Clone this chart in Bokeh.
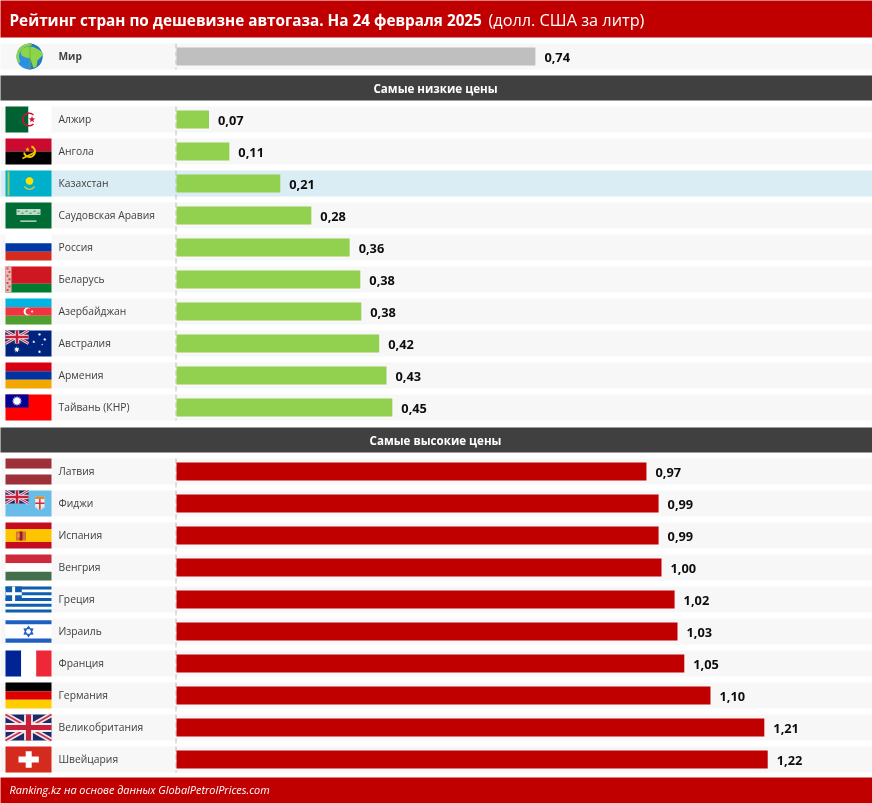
import math
from bokeh.plotting import figure
from bokeh.models import Range1d, ColumnDataSource
from bokeh.core.properties import value
from bokeh.embed import file_html
from bokeh.resources import INLINE

title_bold = "Рейтинг стран по дешевизне автогаза. На 24 февраля 2025"
title_rest = "(долл. США за литр)"
section_low = "Самые низкие цены"
section_high = "Самые высокие цены"
footer = "Ranking.kz на основе данных GlobalPetrolPrices.com"

world_names = ["Мир"]
world_values = [0.74]
world_labels = ["0,74"]

low_names = ["Алжир", "Ангола", "Казахстан", "Саудовская Аравия", "Россия",
             "Беларусь", "Азербайджан", "Австралия", "Армения", "Тайвань (КНР)"]
low_values = [0.067, 0.109, 0.214, 0.278, 0.357, 0.379, 0.381, 0.418, 0.433, 0.445]
low_labels = ["0,07", "0,11", "0,21", "0,28", "0,36", "0,38", "0,38", "0,42", "0,43", "0,45"]

high_names = ["Латвия", "Фиджи", "Испания", "Венгрия", "Греция",
              "Израиль", "Франция", "Германия", "Великобритания", "Швейцария"]
high_values = [0.969, 0.994, 0.994, 1.0, 1.027, 1.033, 1.047, 1.101, 1.212, 1.219]
high_labels = ["0,97", "0,99", "0,99", "1,00", "1,02", "1,03", "1,05", "1,10", "1,21", "1,22"]

W, H = 872, 803
SHIFT = 1          # the frame sits one pixel in from the page corner
AXIS_PX = 177
PX_PER_USD = 485
RED = "#C00000"
GREEN = "#92D050"
GREY = "#BFBFBF"
DARK = "#404040"
ROW_BG = "#F7F7F7"
HILITE = "#DAEDF4"

p = figure(width=W, height=H, output_backend="svg", toolbar_location=None,
           x_range=Range1d((SHIFT - AXIS_PX) / PX_PER_USD, (W + SHIFT - AXIS_PX) / PX_PER_USD),
           y_range=Range1d(H + SHIFT, SHIFT),
           x_axis_location=None, y_axis_location=None,
           min_border=0, outline_line_color=None, background_fill_color="white",
           styles={"position": "fixed", "left": "0px", "top": "0px"})
p.xgrid.visible = False
p.ygrid.visible = False
p.extra_x_ranges = {"px": Range1d(SHIFT, W + SHIFT)}

FONT = "Open Sans"


# ---------- row layout
world_y = [57]
low_y = [120 + 32 * i for i in range(len(low_names))]
high_y = [472 + 32 * i for i in range(len(high_names))]

# frames
p.quad(left=[0, 0, 0, 0], right=[W + 1] * 4, top=[0, 76, 428, 778], bottom=[38, 101, 453, 804],
       fill_color=[RED, DARK, DARK, RED], line_color=None, x_range_name="px")

all_y = world_y + low_y + high_y
all_names = world_names + low_names + high_names
bg = [HILITE if n == "Казахстан" else ROW_BG for n in all_names]
p.quad(left=0, right=W + 1, top=[y - 13 for y in all_y], bottom=[y + 13 for y in all_y],
       fill_color=bg, line_color=None, x_range_name="px")

# axis lines
p.segment(x0=[176.5] * 3, x1=[176.5] * 3, y0=[44, 107, 459], y1=[70, 421, 773],
          line_color="#BDBDBD", line_width=1, line_dash="5 3", x_range_name="px")


# bars
def bars(ys, vals, labels, color):
    src = ColumnDataSource(dict(y=ys, v=vals, lab=labels))
    p.hbar(y="y", right="v", left=0, height=18, fill_color=color, line_color=None, source=src)
    p.text(x="v", y="y", text="lab", source=src, x_offset=9, y_offset=1,
           text_font=value(FONT), text_font_style="bold", text_font_size="12.8px",
           text_color="#0D0D0D", text_baseline="middle", text_align="left")


bars(world_y, world_values, world_labels, GREY)
bars(low_y, low_values, low_labels, GREEN)
bars(high_y, high_values, high_labels, RED)

# row names
p.text(x=[59], y=[y - 1 for y in world_y], text=world_names, x_range_name="px",
       text_font=value(FONT), text_font_style="bold", text_font_size="10.2px",
       text_color=DARK, text_baseline="middle")
p.text(x=[59] * 20, y=[y - 1 for y in low_y + high_y], text=low_names + high_names, x_range_name="px",
       text_font=value(FONT), text_font_size="10.3px",
       text_color=DARK, text_baseline="middle")

# titles
p.text(x=[10], y=[20], text=[title_bold], x_range_name="px", text_font=value(FONT),
       text_font_style="bold", text_font_size="15.3px", text_color="white", text_baseline="middle")
p.text(x=[489], y=[20], text=[title_rest], x_range_name="px", text_font=value(FONT),
       text_font_size="16.3px", text_color="white", text_baseline="middle")
p.text(x=[436, 436], y=[88.5, 440.5], text=[section_low, section_high], x_range_name="px",
       text_font=value(FONT), text_font_style="bold", text_font_size="11.6px", text_color="white",
       text_baseline="middle", text_align="center")
p.text(x=[10], y=[790], text=[footer], x_range_name="px", text_font=value(FONT),
       text_font_style="italic", text_font_size="10.9px", text_color="white", text_baseline="middle")

# ---------- flag decorations: local frame 46 x 26, drawn in the row's left cell
fx, fy, fc = [], [], []
ox, oy = 0, 0


def poly(pts, c):
    fx.append([ox + a for a, b in pts])
    fy.append([oy + b for a, b in pts])
    fc.append(c)


def box(x0, y0, x1, y1, c):
    poly([(x0, y0), (x1, y0), (x1, y1), (x0, y1)], c)


def circ(cx, cy, r, c, n=28):
    poly([(cx + r * math.cos(2 * math.pi * i / n), cy + r * math.sin(2 * math.pi * i / n)) for i in range(n)], c)


def star(cx, cy, r, c, n=5, ratio=0.42, rot=-math.pi / 2):
    pts = []
    for i in range(2 * n):
        rr = r if i % 2 == 0 else r * ratio
        a = rot + math.pi * i / n
        pts.append((cx + rr * math.cos(a), cy + rr * math.sin(a)))
    poly(pts, c)


def thick(x0, y0, x1, y1, t, c):
    dx, dy = x1 - x0, y1 - y0
    L = math.hypot(dx, dy)
    nx, ny = -dy / L * t / 2, dx / L * t / 2
    poly([(x0 + nx, y0 + ny), (x1 + nx, y1 + ny), (x1 - nx, y1 - ny), (x0 - nx, y0 - ny)], c)


def arc(cx, cy, r0, r1, a0, a1, c, n=16):
    angs = [math.radians(a0 + (a1 - a0) * i / n) for i in range(n + 1)]
    pts = [(cx + r1 * math.cos(a), cy + r1 * math.sin(a)) for a in angs]
    pts += [(cx + r0 * math.cos(a), cy + r0 * math.sin(a)) for a in reversed(angs)]
    poly(pts, c)


def jack(w, h):
    k = h / 26
    box(0, 0, w, h, "#1B2A6B")
    thick(0, 0, w, h, 5.2 * k, "#F2E6E8")
    thick(w, 0, 0, h, 5.2 * k, "#F2E6E8")
    thick(0, 0, w, h, 1.8 * k, "#C8304A")
    thick(w, 0, 0, h, 1.8 * k, "#C8304A")
    box(w / 2 - 4.4 * k, 0, w / 2 + 4.4 * k, h, "#F5ECEE")
    box(0, h / 2 - 4.4 * k, w, h / 2 + 4.4 * k, "#F5ECEE")
    box(w / 2 - 2.6 * k, 0, w / 2 + 2.6 * k, h, "#C8203A")
    box(0, h / 2 - 2.6 * k, w, h / 2 + 2.6 * k, "#C8203A")


def at(row_y):
    global ox, oy
    ox, oy = 6, row_y - 13


# world
at(57)
circ(24, 13, 13, "#2B8FE3", 40)
arc(24, 13, 0, 13, -90, 90, "#2479C9", 20)
arc(24, 13, 10.5, 13, 150, 280, "#8CD44A", 14)
poly([(17, 5), (22, 3), (28, 3.5), (33, 6), (37, 9), (38, 11), (34, 15), (32, 17), (31, 23), (28, 24.5),
      (26, 19), (25, 15), (20, 14), (16, 12), (15, 8)], "#8CD44A")
box(24, 0.5, 25, 25, "#6FB83C")

# Алжир
at(low_y[0])
box(0, 0, 23, 26, "#006233")
box(23, 0, 46, 26, "#FFFFFF")
arc(23.5, 13, 5.5, 7, 45, 315, "#D21034", 20)
star(26.5, 13, 3.4, "#D21034")

# Ангола
at(low_y[1])
box(0, 0, 46, 13, "#CC092F")
box(0, 13, 46, 26, "#000000")
arc(24, 13, 4.5, 6.5, -70, 170, "#F5C400", 14)
thick(17, 20, 29, 14, 1.6, "#F5C400")
star(22, 11, 2.4, "#F5C400")

# Казахстан
at(low_y[2])
box(0, 0, 46, 26, "#00AFCA")
box(2, 1, 4, 25, "#A8C94B")
arc(24, 13, 5, 6.5, 30, 150, "#B9CF5A", 10)
circ(24, 10.5, 3.8, "#FEE000")

# Саудовская Аравия
at(low_y[3])
box(0, 0, 46, 26, "#006C35")
box(11, 6.5, 35, 12.5, "#BFD9C9")
for i in range(6):
    box(12 + 4 * i, 8 + (i % 2) * 2, 14 + 4 * i, 9.5 + (i % 2) * 2, "#5E9E7A")
box(14.7, 18, 31, 19.2, "#D8E9DF")

# Россия
at(low_y[4])
box(0, 0, 46, 8.7, "#FFFFFF")
box(0, 8.7, 46, 17.3, "#0039A6")
box(0, 17.3, 46, 26, "#D52B1E")

# Беларусь
at(low_y[5])
box(0, 0, 46, 17.3, "#CE1720")
box(0, 17.3, 46, 26, "#007C30")
box(0, 0, 6, 26, "#E6B8B8")
for j in range(7):
    box(1 + (j % 2) * 2, 1 + j * 3.6, 3 + (j % 2) * 2, 3 + j * 3.6, "#CE4A50")

# Азербайджан
at(low_y[6])
box(0, 0, 46, 8.7, "#00B5E2")
box(0, 8.7, 46, 17.3, "#EF3340")
box(0, 17.3, 46, 26, "#509E2F")
circ(22, 13, 3.9, "#FFFFFF")
circ(23.3, 13, 3.2, "#EF3340")
star(26.6, 13, 1.6, "#FFFFFF", 8)

# Австралия
at(low_y[7])
box(0, 0, 46, 26, "#00247D")
jack(23, 13)
star(11.3, 19, 3.3, "#FFFFFF", 7)
for sx, sy, sr in [(34, 4, 1.8), (39.3, 9, 1.8), (28.3, 11.3, 1.7), (36.7, 14, 1.0), (34, 21.3, 1.8)]:
    star(sx, sy, sr, "#FFFFFF", 7)

# Армения
at(low_y[8])
box(0, 0, 46, 8.7, "#D90012")
box(0, 8.7, 46, 17.3, "#0033A0")
box(0, 17.3, 46, 26, "#F2A800")

# Тайвань
at(low_y[9])
box(0, 0, 46, 26, "#FE0000")
box(0, 0, 23, 13, "#000095")
star(11.5, 6.5, 5.2, "#FFFFFF", 12, 0.62)

# Латвия
at(high_y[0])
box(0, 0, 46, 10.3, "#9E3039")
box(0, 10.3, 46, 16, "#FFFFFF")
box(0, 16, 46, 26, "#9E3039")

# Фиджи
at(high_y[1])
box(0, 0, 46, 26, "#68BCE8")
jack(23, 13)
box(29.7, 5.7, 39, 17, "#F0EDE6")
poly([(29.7, 17), (39, 17), (34.35, 19.7)], "#F0EDE6")
box(29.7, 5.7, 39, 8.5, "#D98A3A")
box(33.6, 8.5, 35.1, 19.3, "#D0303A")
box(29.7, 12, 39, 13.5, "#D0303A")

# Испания
at(high_y[2])
box(0, 0, 46, 6.5, "#C60B1E")
box(0, 6.5, 46, 19.5, "#FFC400")
box(0, 19.5, 46, 26, "#C60B1E")
box(10.5, 9, 20.5, 18, "#C8783A")
box(14, 9, 17, 18, "#AD1519")
box(12, 11, 14, 15, "#D9A441")

# Венгрия
at(high_y[3])
box(0, 0, 46, 8.7, "#CD2A3E")
box(0, 8.7, 46, 17.3, "#FFFFFF")
box(0, 17.3, 46, 26, "#436F4D")

# Греция
at(high_y[4])
box(0, 0, 46, 26, "#FFFFFF")
for i in range(0, 9, 2):
    box(0, i * 26 / 9, 46, (i + 1) * 26 / 9, "#0D5EAF")
box(0, 0, 16.3, 14.4, "#0D5EAF")
box(6.6, 0, 9.6, 14.4, "#FFFFFF")
box(0, 5.7, 16.3, 8.7, "#FFFFFF")

# Израиль
at(high_y[5])
box(0, 0, 46, 26, "#FFFFFF")
box(0, 1.7, 46, 5.7, "#1F5FBF")
box(0, 20, 46, 24.3, "#1F5FBF")
star(23, 13, 6, "#1F5FBF", 6, 0.62)
circ(23, 13, 2.6, "#FFFFFF", 6)

# Франция
at(high_y[6])
box(0, 0, 15.7, 26, "#002395")
box(15.7, 0, 30.7, 26, "#FFFFFF")
box(30.7, 0, 46, 26, "#ED2939")

# Германия
at(high_y[7])
box(0, 0, 46, 8.7, "#000000")
box(0, 8.7, 46, 17.3, "#DD0000")
box(0, 17.3, 46, 26, "#FFCE00")

# Великобритания
at(high_y[8])
jack(46, 26)

# Швейцария
at(high_y[9])
box(0, 0, 46, 26, "#D52B1E")
box(13, 10, 33.3, 16, "#FFFFFF")
box(20.2, 4.7, 26.2, 21.3, "#FFFFFF")

p.patches(xs=fx, ys=fy, fill_color=fc, line_color=None, x_range_name="px")

open("out.html", "w").write(file_html(p, INLINE))
